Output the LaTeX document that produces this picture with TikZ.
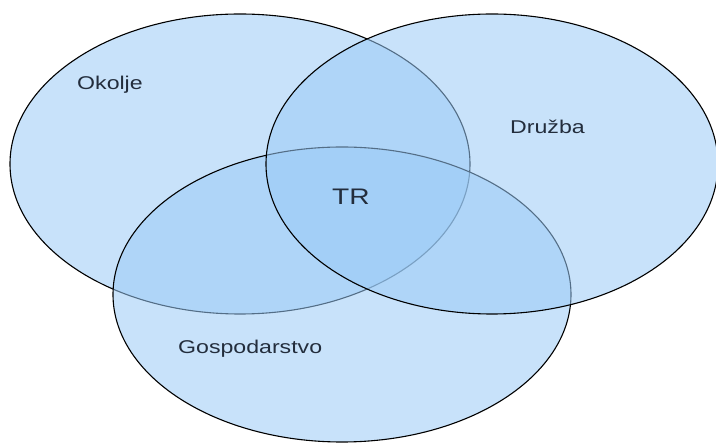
\documentclass[tikz,border=0pt]{standalone}
\usepackage{fontspec}
\newfontfamily\vennfont[FakeStretch=1.25]{Liberation Sans}
\definecolor{setblue}{RGB}{154,202,246}
\definecolor{labelink}{RGB}{35,45,60}
\begin{document}
\begin{tikzpicture}
    [x=1pt, y=-1pt,
    SetShape/.style={draw=black, line width=1.1pt, fill=setblue, fill opacity=0.55, draw opacity=1},
    SetLabel/.style={anchor=base west, inner sep=0pt, text=labelink, font=\vennfont\fontsize{18.5}{20}\selectfont},
    CoreLabel/.style={anchor=base west, inner sep=0pt, text=labelink, font=\vennfont\fontsize{22.5}{24}\selectfont}]
     \useasboundingbox (0,0) rectangle (716,443);
     \draw[SetShape] (240,164) ellipse (230 and 150);
     \draw[SetShape] (342,294.5) ellipse (229 and 147.5);
     \draw[SetShape] (492,164) ellipse (226 and 150);
     \node[SetLabel] (OkoljeLabel) at (77,90){Okolje};
     \node[SetLabel] (DruzbaLabel) at (510,134){Družba};
     \node[SetLabel] (GospodarstvoLabel) at (178,354){Gospodarstvo};
     \node[CoreLabel] (TRLabel) at (332,205){TR};
\end{tikzpicture}
\end{document}
